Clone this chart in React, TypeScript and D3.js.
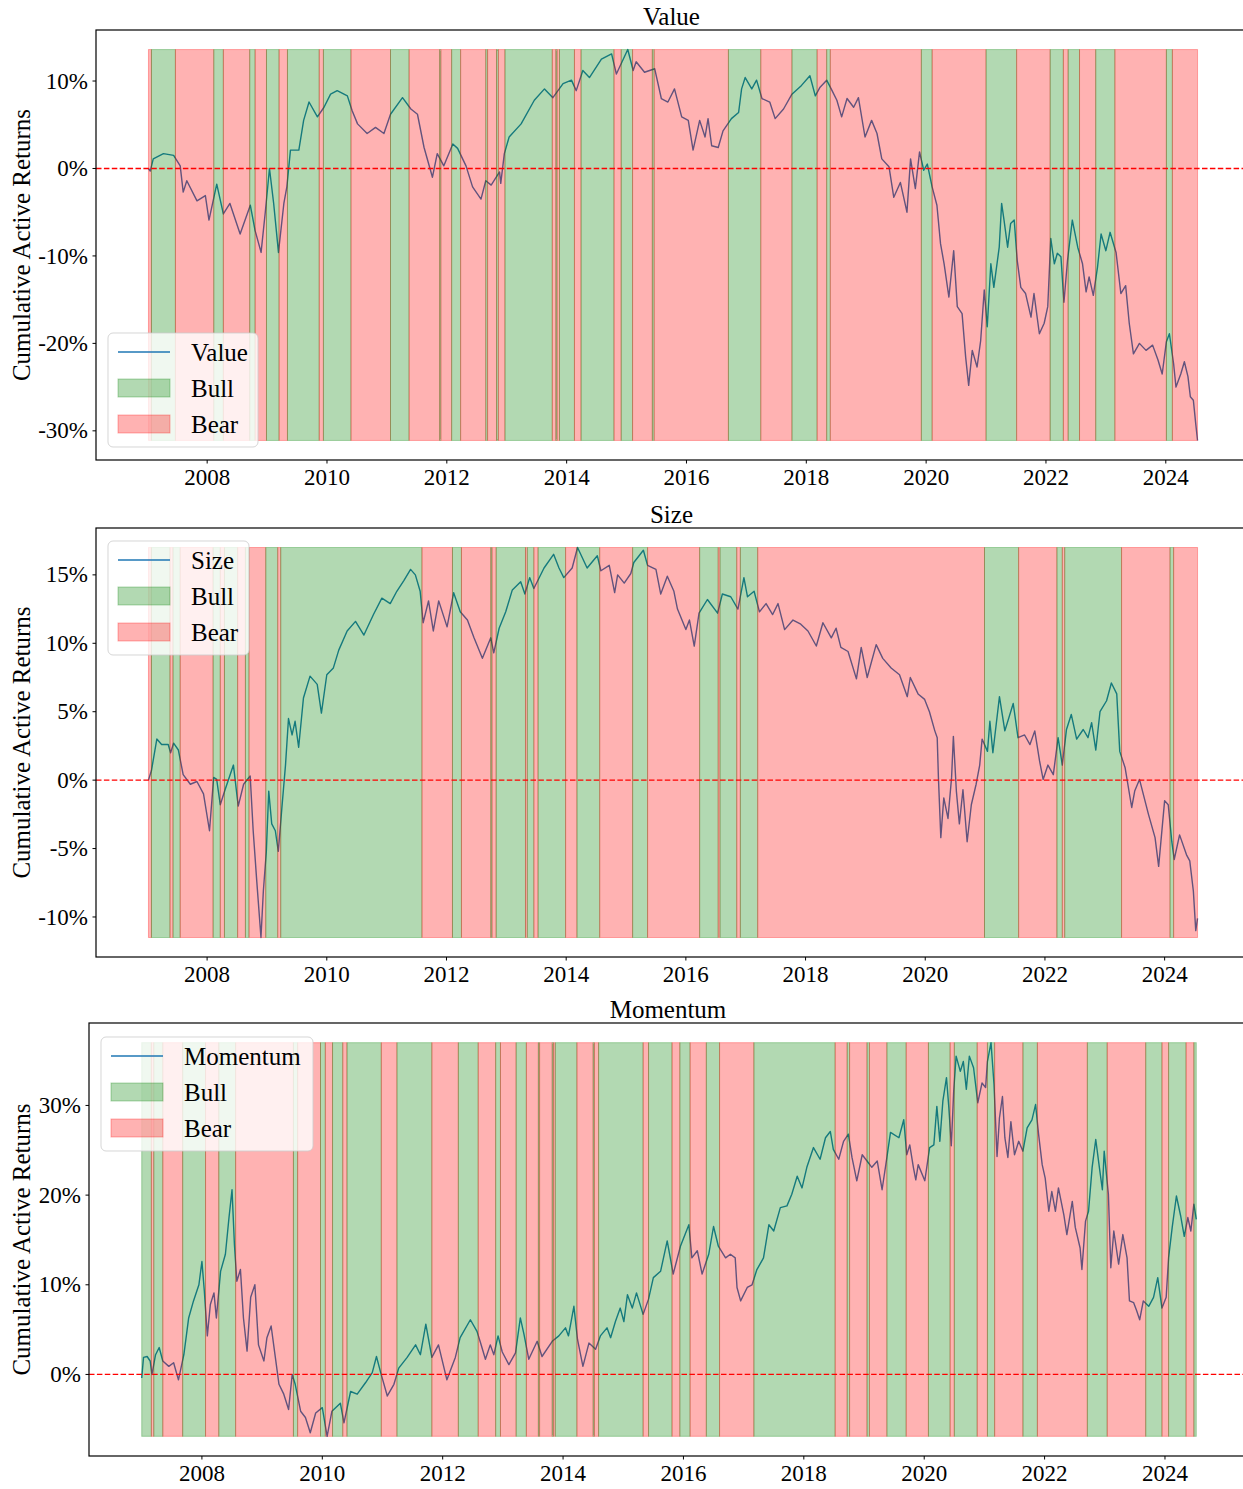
import * as d3 from "d3";

const WIDTH = 1243;
const HEIGHT = 1489;
const FONT = "'Liberation Serif', 'Times New Roman', serif";
const LINE_BLUE = "#1f77b4";

const xTickYears = [2008, 2010, 2012, 2014, 2016, 2018, 2020, 2022, 2024];

// ---- Value ----
const valueDates = [
  2007.02, 2007.05, 2007.1, 2007.27, 2007.44, 2007.55, 2007.6, 2007.66, 2007.83, 2007.97,
  2008.03, 2008.16, 2008.27, 2008.38, 2008.55, 2008.72, 2008.8, 2008.9, 2008.97, 2009.04,
  2009.11, 2009.19, 2009.28, 2009.33, 2009.39, 2009.53, 2009.61, 2009.7, 2009.84, 2009.95,
  2010.06, 2010.17, 2010.34, 2010.42, 2010.51, 2010.67, 2010.81, 2010.95, 2011.06, 2011.26,
  2011.4, 2011.51, 2011.62, 2011.76, 2011.84, 2011.95, 2012.1, 2012.18, 2012.32, 2012.43,
  2012.57, 2012.65, 2012.74, 2012.88, 2012.9, 2012.96, 2013.04, 2013.24, 2013.46, 2013.63,
  2013.77, 2013.94, 2014.08, 2014.16, 2014.27, 2014.38, 2014.58, 2014.75, 2014.83, 2015.02,
  2015.11, 2015.16, 2015.3, 2015.47, 2015.58, 2015.69, 2015.8, 2015.92, 2016.03, 2016.11,
  2016.22, 2016.31, 2016.36, 2016.42, 2016.53, 2016.61, 2016.75, 2016.87, 2016.92, 2016.98,
  2017.09, 2017.17, 2017.26, 2017.39, 2017.48, 2017.62, 2017.76, 2017.92, 2018.06, 2018.15,
  2018.23, 2018.34, 2018.43, 2018.51, 2018.59, 2018.68, 2018.79, 2018.87, 2018.98, 2019.09,
  2019.18, 2019.26, 2019.38, 2019.46, 2019.57, 2019.68, 2019.74, 2019.82, 2019.89, 2019.96,
  2020.02, 2020.1, 2020.18, 2020.24, 2020.3, 2020.38, 2020.46, 2020.52, 2020.6, 2020.66,
  2020.71, 2020.77, 2020.85, 2020.91, 2020.97, 2021.02, 2021.08, 2021.13, 2021.22, 2021.26,
  2021.3, 2021.36, 2021.41, 2021.47, 2021.52, 2021.58, 2021.66, 2021.75, 2021.8, 2021.89,
  2021.97, 2022.03, 2022.08, 2022.14, 2022.19, 2022.25, 2022.3, 2022.36, 2022.44, 2022.53,
  2022.61, 2022.67, 2022.72, 2022.79, 2022.86, 2022.92, 2023.0, 2023.07, 2023.17, 2023.25,
  2023.33, 2023.39, 2023.46, 2023.56, 2023.67, 2023.78, 2023.87, 2023.94, 2024.01, 2024.06,
  2024.13, 2024.17, 2024.25, 2024.31, 2024.37, 2024.41, 2024.46, 2024.5, 2024.53,
];
const valueReturns = [
  0.0, -0.3, 1.1, 1.7, 1.5, 0.3, -2.7, -1.4, -3.7, -3.1,
  -5.9, -1.8, -5.2, -4.0, -7.5, -4.2, -7.1, -9.6, -5.0, 0.0,
  -4.0, -9.6, -4.0, -2.1, 2.1, 2.1, 5.5, 7.6, 5.9, 7.0,
  8.5, 8.9, 8.3, 6.6, 5.1, 4.0, 4.7, 4.0, 6.2, 8.1,
  6.8, 6.2, 2.4, -1.0, 1.7, 0.3, 2.8, 2.3, 0.3, -2.1,
  -3.5, -1.4, -1.9, -0.4, -1.7, 1.7, 3.6, 5.1, 7.8, 9.1,
  8.1, 9.7, 10.1, 8.9, 11.2, 10.4, 12.5, 13.1, 10.8, 13.6,
  11.2, 12.2, 11.0, 11.4, 8.0, 7.6, 9.1, 5.9, 5.5, 2.1,
  5.5, 3.6, 5.7, 2.6, 2.4, 4.3, 5.7, 6.4, 9.1, 10.4,
  9.1, 10.1, 8.0, 7.6, 5.7, 6.8, 8.5, 9.5, 10.6, 8.3,
  9.3, 10.1, 8.9, 7.8, 5.9, 8.0, 7.0, 8.1, 3.6, 5.5,
  4.0, 1.1, 0.2, -3.3, -1.6, -5.0, 1.1, -2.3, 1.9, -0.2,
  0.5, -2.1, -4.2, -8.6, -10.9, -14.7, -9.4, -15.8, -16.6, -21.6,
  -24.8, -20.8, -22.7, -19.7, -13.9, -18.1, -10.9, -13.6, -9.0, -4.0,
  -5.9, -9.0, -6.3, -5.9, -10.5, -13.6, -14.3, -17.0, -14.3, -18.9,
  -17.7, -15.8, -8.0, -10.9, -9.7, -10.1, -15.3, -10.5, -5.9, -9.0,
  -10.9, -14.1, -12.4, -14.5, -11.3, -7.5, -9.4, -7.3, -9.6, -14.3,
  -13.4, -17.7, -21.2, -20.0, -20.8, -20.2, -21.9, -23.5, -19.8, -18.9,
  -22.3, -25.0, -23.5, -22.1, -23.8, -26.1, -26.5, -29.2, -31.1,
];
const valueRegimeStarts = [
  2007.02, 2007.07, 2007.47, 2008.11, 2008.27, 2008.71, 2008.8, 2008.99, 2009.2, 2009.34,
  2009.87, 2009.94, 2010.4, 2011.06, 2011.37, 2011.88, 2011.9, 2012.08, 2012.23, 2012.65,
  2012.68, 2012.83, 2012.86, 2012.97, 2013.76, 2013.82, 2013.84, 2013.88, 2014.13, 2014.24,
  2014.79, 2014.91, 2015.1, 2015.43, 2015.46, 2016.7, 2017.24, 2017.76, 2018.18, 2018.34,
  2018.4, 2019.92, 2020.1, 2021.0, 2021.51, 2022.07, 2022.29, 2022.37, 2022.56, 2022.83,
  2023.15, 2024.01, 2024.11,
];
const valueRegimeStates = [
  "Bear", "Bull", "Bear", "Bull", "Bear", "Bull", "Bear", "Bull", "Bear", "Bull",
  "Bear", "Bull", "Bear", "Bull", "Bear", "Bull", "Bear", "Bull", "Bear", "Bull",
  "Bear", "Bull", "Bear", "Bull", "Bear", "Bull", "Bear", "Bull", "Bear", "Bull",
  "Bear", "Bull", "Bear", "Bull", "Bear", "Bull", "Bear", "Bull", "Bear", "Bull",
  "Bear", "Bull", "Bear", "Bull", "Bear", "Bull", "Bear", "Bull", "Bear", "Bull",
  "Bear", "Bull", "Bear",
];
const valueTicks = [-30, -20, -10, 0, 10];

// ---- Size ----
const sizeDates = [
  2007.02, 2007.07, 2007.16, 2007.24, 2007.35, 2007.39, 2007.44, 2007.52, 2007.6, 2007.72,
  2007.83, 2007.94, 2008.04, 2008.11, 2008.16, 2008.22, 2008.3, 2008.44, 2008.52, 2008.61,
  2008.72, 2008.77, 2008.83, 2008.9, 2008.94, 2008.99, 2009.03, 2009.08, 2009.14, 2009.19,
  2009.25, 2009.31, 2009.36, 2009.42, 2009.47, 2009.53, 2009.61, 2009.72, 2009.84, 2009.91,
  2010.0, 2010.11, 2010.2, 2010.34, 2010.48, 2010.62, 2010.78, 2010.92, 2011.06, 2011.17,
  2011.29, 2011.4, 2011.48, 2011.56, 2011.61, 2011.7, 2011.78, 2011.87, 2012.01, 2012.12,
  2012.23, 2012.35, 2012.46, 2012.6, 2012.74, 2012.79, 2012.88, 2012.99, 2013.1, 2013.24,
  2013.31, 2013.39, 2013.46, 2013.63, 2013.79, 2013.88, 2013.96, 2014.1, 2014.19, 2014.35,
  2014.52, 2014.58, 2014.72, 2014.81, 2014.86, 2014.97, 2015.08, 2015.13, 2015.29, 2015.36,
  2015.5, 2015.58, 2015.69, 2015.8, 2015.86, 2016.0, 2016.06, 2016.14, 2016.22, 2016.36,
  2016.53, 2016.61, 2016.75, 2016.87, 2016.97, 2017.03, 2017.14, 2017.23, 2017.34, 2017.45,
  2017.54, 2017.65, 2017.79, 2017.92, 2018.04, 2018.18, 2018.29, 2018.43, 2018.51, 2018.59,
  2018.71, 2018.85, 2018.93, 2019.03, 2019.18, 2019.29, 2019.43, 2019.57, 2019.7, 2019.75,
  2019.88, 2019.99, 2020.07, 2020.16, 2020.2, 2020.22, 2020.26, 2020.31, 2020.38, 2020.44,
  2020.47, 2020.52, 2020.57, 2020.63, 2020.7, 2020.77, 2020.85, 2020.91, 2020.95, 2021.04,
  2021.08, 2021.13, 2021.24, 2021.33, 2021.47, 2021.55, 2021.66, 2021.75, 2021.83, 2021.91,
  2021.97, 2022.05, 2022.14, 2022.22, 2022.29, 2022.36, 2022.44, 2022.53, 2022.64, 2022.72,
  2022.78, 2022.85, 2022.92, 2023.03, 2023.11, 2023.2, 2023.25, 2023.34, 2023.45, 2023.5,
  2023.58, 2023.73, 2023.84, 2023.9, 2024.0, 2024.06, 2024.12, 2024.16, 2024.25, 2024.37,
  2024.42, 2024.48, 2024.52, 2024.55,
];
const sizeReturns = [
  0.0, 0.7, 3.0, 2.6, 2.6, 2.0, 2.7, 2.2, 0.4, -0.3,
  -0.1, -1.0, -3.7, 0.2, 0.05, -1.8, -0.7, 1.1, -1.9, -0.3,
  0.3, -3.7, -7.4, -11.5, -8.1, -5.2, -0.8, -3.2, -3.7, -5.2,
  -2.0, 1.1, 4.5, 3.3, 4.3, 2.4, 6.0, 7.6, 7.0, 4.9,
  7.7, 8.2, 9.5, 10.9, 11.6, 10.6, 12.1, 13.3, 12.9, 13.8,
  14.6, 15.4, 15.0, 13.8, 11.5, 13.1, 10.9, 13.1, 11.2, 13.7,
  12.3, 11.7, 10.4, 8.9, 10.4, 9.3, 11.1, 12.3, 13.9, 14.5,
  13.6, 14.8, 14.0, 15.5, 16.5, 15.5, 14.8, 15.5, 17.0, 15.5,
  16.4, 15.3, 15.7, 13.7, 15.0, 14.4, 15.1, 15.9, 16.8, 15.7,
  15.4, 13.6, 14.9, 13.8, 12.5, 11.0, 11.7, 9.8, 12.2, 13.2,
  12.2, 13.6, 13.4, 12.5, 14.8, 13.4, 13.8, 12.3, 12.9, 12.1,
  12.9, 11.0, 11.7, 11.4, 10.9, 9.8, 11.5, 10.4, 11.1, 9.7,
  9.4, 7.4, 9.7, 7.5, 9.9, 8.9, 8.2, 7.7, 6.1, 7.5,
  6.3, 5.9, 5.0, 3.6, 3.1, 0.2, -4.2, -1.3, -2.8, 0.2,
  3.2, -0.8, -3.2, -0.7, -4.5, -1.8, -0.3, 1.1, 3.0, 2.1,
  4.3, 2.0, 6.1, 3.6, 5.6, 3.1, 3.3, 2.6, 3.6, 1.4,
  0.05, 1.1, 0.4, 3.1, 1.1, 3.7, 4.8, 3.0, 3.7, 3.1,
  4.2, 2.2, 5.0, 5.8, 7.1, 6.3, 2.1, 0.9, -2.0, -0.8,
  0.05, -2.5, -4.2, -6.3, -1.5, -1.8, -4.5, -5.8, -4.0, -5.5,
  -5.9, -8.1, -11.0, -10.1,
];
const sizeRegimeStarts = [
  2007.02, 2007.07, 2007.38, 2007.43, 2007.55, 2008.1, 2008.22, 2008.29, 2008.51, 2008.64,
  2008.7, 2008.98, 2009.18, 2009.23, 2011.59, 2012.1, 2012.25, 2012.74, 2012.76, 2012.83,
  2013.32, 2013.35, 2013.46, 2013.53, 2013.99, 2014.18, 2014.56, 2015.11, 2015.36, 2016.23,
  2016.54, 2016.57, 2016.85, 2016.91, 2017.2, 2020.99, 2021.56, 2022.2, 2022.29, 2022.33,
  2023.28, 2024.09, 2024.15,
];
const sizeRegimeStates = [
  "Bear", "Bull", "Bear", "Bull", "Bear", "Bull", "Bear", "Bull", "Bear", "Bull",
  "Bear", "Bull", "Bear", "Bull", "Bear", "Bull", "Bear", "Bull", "Bear", "Bull",
  "Bear", "Bull", "Bear", "Bull", "Bear", "Bull", "Bear", "Bull", "Bear", "Bull",
  "Bear", "Bull", "Bear", "Bull", "Bear", "Bull", "Bear", "Bull", "Bear", "Bull",
  "Bear", "Bull", "Bear",
];
const sizeTicks = [-10, -5, 0, 5, 10, 15];

// ---- Momentum ----
const momentumDates = [
  2007.0, 2007.03, 2007.09, 2007.14, 2007.17, 2007.23, 2007.29, 2007.35, 2007.45, 2007.53,
  2007.61, 2007.7, 2007.78, 2007.86, 2007.95, 2008.0, 2008.04, 2008.09, 2008.14, 2008.2,
  2008.24, 2008.31, 2008.39, 2008.45, 2008.5, 2008.54, 2008.58, 2008.64, 2008.69, 2008.75,
  2008.81, 2008.88, 2008.94, 2009.03, 2009.08, 2009.15, 2009.22, 2009.28, 2009.36, 2009.44,
  2009.5, 2009.55, 2009.64, 2009.72, 2009.8, 2009.89, 2010.0, 2010.08, 2010.16, 2010.3,
  2010.36, 2010.47, 2010.58, 2010.72, 2010.83, 2010.9, 2010.97, 2011.08, 2011.19, 2011.27,
  2011.41, 2011.55, 2011.63, 2011.72, 2011.82, 2011.93, 2012.07, 2012.21, 2012.29, 2012.46,
  2012.57, 2012.63, 2012.71, 2012.79, 2012.85, 2012.92, 2012.99, 2013.1, 2013.21, 2013.29,
  2013.35, 2013.43, 2013.57, 2013.65, 2013.82, 2013.93, 2014.04, 2014.09, 2014.18, 2014.24,
  2014.33, 2014.43, 2014.54, 2014.62, 2014.73, 2014.79, 2014.87, 2014.95, 2015.01, 2015.07,
  2015.15, 2015.22, 2015.33, 2015.42, 2015.5, 2015.62, 2015.73, 2015.83, 2015.95, 2016.09,
  2016.14, 2016.23, 2016.31, 2016.42, 2016.5, 2016.58, 2016.7, 2016.78, 2016.86, 2016.89,
  2016.95, 2017.06, 2017.14, 2017.22, 2017.33, 2017.42, 2017.5, 2017.61, 2017.72, 2017.8,
  2017.89, 2017.97, 2018.05, 2018.16, 2018.27, 2018.36, 2018.44, 2018.49, 2018.58, 2018.66,
  2018.74, 2018.8, 2018.88, 2018.97, 2019.05, 2019.13, 2019.22, 2019.3, 2019.38, 2019.44,
  2019.58, 2019.66, 2019.71, 2019.76, 2019.82, 2019.86, 2019.9, 2020.01, 2020.09, 2020.16,
  2020.21, 2020.26, 2020.31, 2020.37, 2020.41, 2020.45, 2020.49, 2020.53, 2020.6, 2020.65,
  2020.7, 2020.75, 2020.82, 2020.89, 2020.96, 2021.02, 2021.05, 2021.11, 2021.16, 2021.21,
  2021.25, 2021.3, 2021.34, 2021.39, 2021.44, 2021.5, 2021.57, 2021.64, 2021.71, 2021.79,
  2021.85, 2021.9, 2021.96, 2022.01, 2022.07, 2022.12, 2022.18, 2022.23, 2022.32, 2022.37,
  2022.46, 2022.51, 2022.59, 2022.62, 2022.68, 2022.73, 2022.79, 2022.85, 2022.91, 2022.96,
  2022.99, 2023.06, 2023.1, 2023.15, 2023.23, 2023.3, 2023.37, 2023.41, 2023.48, 2023.53,
  2023.58, 2023.64, 2023.73, 2023.81, 2023.88, 2023.95, 2024.02, 2024.06, 2024.12, 2024.19,
  2024.26, 2024.32, 2024.38, 2024.43, 2024.48, 2024.52,
];
const momentumReturns = [
  -0.4, 1.9, 2.0, 1.5, 0.0, 2.2, 3.0, 1.5, 0.9, 1.3,
  -0.6, 2.2, 6.3, 8.2, 10.0, 12.6, 9.3, 4.3, 7.8, 9.1,
  6.3, 11.5, 13.4, 17.5, 20.6, 14.5, 10.4, 11.7, 6.3, 2.6,
  8.6, 10.0, 3.3, 1.5, 4.1, 5.4, 1.9, -1.1, -2.2, -3.9,
  0.0, -1.1, -4.1, -4.8, -6.5, -4.3, -3.7, -6.9, -4.1, -3.2,
  -5.4, -1.9, -2.2, -0.9, 0.2, 2.0, 0.2, -2.4, -1.1, 0.7,
  1.9, 3.3, 2.2, 5.6, 1.9, 3.3, -0.6, 1.9, 4.1, 6.1,
  4.8, 3.5, 1.7, 3.3, 2.2, 4.3, 2.5, 1.1, 2.4, 6.3,
  4.5, 1.7, 3.7, 2.0, 3.7, 4.3, 5.2, 4.3, 7.6, 3.9,
  0.9, 3.5, 2.8, 4.3, 5.2, 4.1, 5.9, 7.4, 5.9, 8.9,
  7.4, 9.1, 6.7, 8.4, 10.8, 11.5, 14.9, 11.2, 14.3, 16.7,
  13.0, 13.8, 11.2, 13.4, 16.5, 14.3, 13.0, 13.4, 13.0, 9.7,
  8.2, 9.7, 10.0, 11.7, 13.0, 16.7, 16.0, 18.6, 18.8, 20.1,
  22.1, 20.8, 23.1, 25.3, 24.0, 26.4, 27.1, 25.1, 24.0, 26.0,
  26.8, 24.2, 21.6, 24.5, 23.8, 23.1, 23.8, 20.6, 24.2, 27.0,
  26.4, 28.4, 24.5, 25.6, 23.1, 21.7, 23.4, 21.6, 25.3, 25.6,
  29.9, 26.0, 30.5, 33.1, 29.7, 25.5, 31.6, 35.5, 33.8, 34.9,
  31.8, 35.5, 34.2, 30.3, 32.5, 32.0, 34.9, 37.0, 32.3, 24.3,
  28.6, 31.0, 26.4, 24.2, 28.2, 24.5, 26.0, 24.9, 27.5, 28.4,
  30.1, 26.8, 23.4, 21.9, 18.2, 20.4, 18.2, 20.8, 17.8, 15.6,
  19.3, 16.4, 14.1, 11.7, 17.1, 18.2, 23.1, 26.2, 23.1, 20.6,
  24.9, 20.1, 11.9, 16.0, 12.3, 15.6, 13.0, 8.2, 8.0, 7.1,
  6.1, 8.2, 7.6, 8.6, 10.8, 7.4, 8.6, 13.0, 16.4, 19.9,
  17.7, 15.4, 17.5, 16.0, 19.0, 17.3,
];
const momentumRegimeStarts = [
  2007.0, 2007.16, 2007.2, 2007.35, 2007.68, 2008.06, 2008.28, 2008.56, 2009.52, 2009.59,
  2009.97, 2010.05, 2010.17, 2010.34, 2010.41, 2010.98, 2011.24, 2011.82, 2012.26, 2012.59,
  2012.88, 2012.96, 2013.22, 2013.39, 2013.59, 2013.61, 2013.82, 2013.84, 2013.87, 2014.23,
  2014.5, 2014.52, 2014.59, 2015.33, 2015.42, 2015.81, 2015.94, 2016.11, 2016.38, 2016.6,
  2017.17, 2018.52, 2018.72, 2018.76, 2019.05, 2019.09, 2019.38, 2019.7, 2020.07, 2020.43,
  2020.5, 2020.88, 2021.05, 2021.17, 2021.64, 2021.88, 2022.71, 2023.04, 2023.68, 2023.95,
  2024.06, 2024.35, 2024.48,
];
const momentumRegimeStates = [
  "Bull", "Bear", "Bull", "Bear", "Bull", "Bear", "Bull", "Bear", "Bull", "Bear",
  "Bull", "Bear", "Bull", "Bear", "Bull", "Bear", "Bull", "Bear", "Bull", "Bear",
  "Bull", "Bear", "Bull", "Bear", "Bull", "Bear", "Bull", "Bear", "Bull", "Bear",
  "Bull", "Bear", "Bull", "Bear", "Bull", "Bear", "Bull", "Bear", "Bull", "Bear",
  "Bull", "Bear", "Bull", "Bear", "Bull", "Bear", "Bull", "Bear", "Bull", "Bear",
  "Bull", "Bear", "Bull", "Bear", "Bull", "Bear", "Bull", "Bear", "Bull", "Bear",
  "Bull", "Bear", "Bull",
];
const momentumTicks = [0, 10, 20, 30];

const regimeColor: Record<string, string> = { Bull: "green", Bear: "red" };

type Box = { left: number; top: number; right: number; bottom: number };

function Panel(props: {
  title: string;
  dates: number[];
  returns: number[];
  regimeStarts: number[];
  regimeStates: string[];
  yTicks: number[];
  box: Box;
  legend: { x: number; y: number; w: number };
}) {
  const { title, dates, returns, regimeStarts, regimeStates, yTicks, box, legend } = props;

  const [dMin, dMax] = d3.extent(dates) as [number, number];
  const padX = (dMax - dMin) * 0.05;
  const x = d3.scaleLinear().domain([dMin - padX, dMax + padX]).range([box.left, box.right]);

  const [rMin, rMax] = d3.extent(returns) as [number, number];
  const padY = (rMax - rMin) * 0.05;
  const y = d3.scaleLinear().domain([rMin - padY, rMax + padY]).range([box.bottom, box.top]);

  const line = d3
    .line<number>()
    .x((_, i) => x(dates[i]))
    .y((d) => y(d));

  // regimes are drawn over the line, like the semi transparent spans
  const bands = regimeStarts.map((s, i) => ({
    x0: x(s),
    x1: x(i + 1 < regimeStarts.length ? regimeStarts[i + 1] : dMax),
    color: regimeColor[regimeStates[i]],
  }));
  const bandTop = y(rMax);
  const bandBottom = y(rMin);

  const midY = (box.top + box.bottom) / 2;
  const rows = [legend.y + 19, legend.y + 55, legend.y + 91];

  return (
    <g>
      <text
        x={(box.left + WIDTH) / 2 + 2}
        y={box.top - 5}
        textAnchor="middle"
        fontSize={25}
        fontFamily={FONT}
      >
        {title}
      </text>

      <path
        d={line(returns) ?? ""}
        fill="none"
        stroke={LINE_BLUE}
        strokeWidth={1.4}
        strokeLinejoin="round"
      />

      {bands.map((b, i) => (
        <rect
          key={i}
          x={b.x0}
          y={bandTop}
          width={Math.max(0, b.x1 - b.x0)}
          height={bandBottom - bandTop}
          fill={b.color}
          fillOpacity={0.3}
          stroke={b.color}
          strokeOpacity={0.3}
          strokeWidth={1}
        />
      ))}

      <line
        x1={box.left}
        x2={box.right}
        y1={y(0)}
        y2={y(0)}
        stroke="red"
        strokeWidth={1.3}
        strokeDasharray="5.5 2.4"
      />

      {/* axes frame */}
      <rect
        x={box.left}
        y={box.top}
        width={box.right - box.left}
        height={box.bottom - box.top}
        fill="none"
        stroke="black"
        strokeWidth={1.2}
      />

      {yTicks.map((t) => (
        <g key={t}>
          <line x1={box.left - 3.5} x2={box.left} y1={y(t)} y2={y(t)} stroke="black" strokeWidth={1} />
          <text
            x={box.left - 8}
            y={y(t)}
            dy="0.33em"
            textAnchor="end"
            fontSize={23}
            fontFamily={FONT}
          >
            {`${t}%`}
          </text>
        </g>
      ))}

      {xTickYears.map((t) => (
        <g key={t}>
          <line x1={x(t)} x2={x(t)} y1={box.bottom} y2={box.bottom + 3.5} stroke="black" strokeWidth={1} />
          <text x={x(t)} y={box.bottom + 25} textAnchor="middle" fontSize={23} fontFamily={FONT}>
            {t}
          </text>
        </g>
      ))}

      <text
        transform={`translate(30, ${midY}) rotate(-90)`}
        textAnchor="middle"
        fontSize={25}
        fontFamily={FONT}
      >
        Cumulative Active Returns
      </text>

      {/* legend */}
      <g>
        <rect
          x={legend.x}
          y={legend.y}
          width={legend.w}
          height={114}
          rx={5}
          fill="white"
          fillOpacity={0.8}
          stroke="#cccccc"
          strokeOpacity={0.8}
          strokeWidth={1}
        />
        <line
          x1={legend.x + 10}
          x2={legend.x + 62}
          y1={rows[0]}
          y2={rows[0]}
          stroke={LINE_BLUE}
          strokeWidth={1.5}
        />
        {["Bull", "Bear"].map((r, i) => (
          <rect
            key={r}
            x={legend.x + 10}
            y={rows[i + 1] - 9}
            width={52}
            height={18}
            fill={regimeColor[r]}
            fillOpacity={0.3}
            stroke={regimeColor[r]}
            strokeOpacity={0.3}
          />
        ))}
        {[title, "Bull", "Bear"].map((lab, i) => (
          <text key={lab} x={legend.x + 83} y={rows[i] + 8.5} fontSize={25} fontFamily={FONT}>
            {lab}
          </text>
        ))}
      </g>
    </g>
  );
}

export default function App() {
  return (
    <svg
      width={WIDTH}
      height={HEIGHT}
      viewBox={`0 0 ${WIDTH} ${HEIGHT}`}
      style={{ position: "absolute", left: 0, top: 0, background: "white", display: "block" }}
    >
      <rect width={WIDTH} height={HEIGHT} fill="white" />
      <Panel
        title="Value"
        dates={valueDates}
        returns={valueReturns}
        regimeStarts={valueRegimeStarts}
        regimeStates={valueRegimeStates}
        yTicks={valueTicks}
        box={{ left: 96, top: 30, right: 1250, bottom: 460 }}
        legend={{ x: 108, y: 333, w: 150 }}
      />
      <Panel
        title="Size"
        dates={sizeDates}
        returns={sizeReturns}
        regimeStarts={sizeRegimeStarts}
        regimeStates={sizeRegimeStates}
        yTicks={sizeTicks}
        box={{ left: 96, top: 528, right: 1250, bottom: 957 }}
        legend={{ x: 108, y: 541, w: 141 }}
      />
      <Panel
        title="Momentum"
        dates={momentumDates}
        returns={momentumReturns}
        regimeStarts={momentumRegimeStarts}
        regimeStates={momentumRegimeStates}
        yTicks={momentumTicks}
        box={{ left: 89, top: 1023, right: 1249, bottom: 1456 }}
        legend={{ x: 101, y: 1037, w: 212 }}
      />
    </svg>
  );
}
